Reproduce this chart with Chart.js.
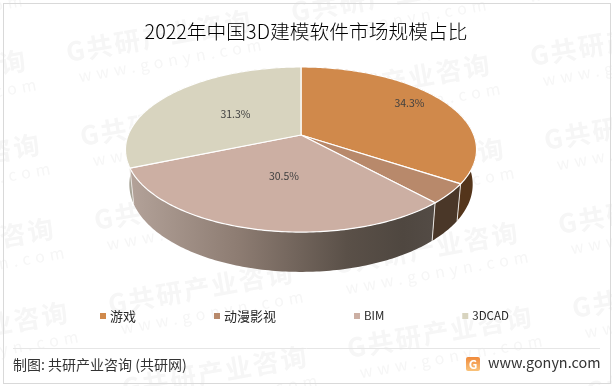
<!DOCTYPE html>
<html>
<head>
<meta charset="utf-8">
<style>
  html, body { margin: 0; padding: 0; background: #fff; }
  #wrap { width: 612px; height: 386px; }
</style>
<script src="https://cdn.jsdelivr.net/npm/chart.js@4"></script>
</head>
<body>
<div id="wrap"><canvas id="chart" width="612" height="386"></canvas></div>
<script>
const titleText = "2022年中国3D建模软件市场规模占比";
const categories = ["游戏", "动漫影视", "BIM", "3DCAD"];
const shares = [34.3, 3.9, 30.5, 31.3];
const shownLabels = ["34.3%", "", "30.5%", "31.3%"];
const sliceColors = ["#d0894b", "#b8896b", "#ccafa3", "#d8d4bf"];
const sourceText = "制图: 共研产业咨询 (共研网)";
const siteText = "www.gonyn.com";

const cjk = '"Noto Sans CJK SC", "Noto Sans", sans-serif';

// the pie is tilted with perspective, so the apex sits above the middle of the ellipse
const apexX = 301, apexY = 135, rimX = 172.8, rimY = 80, tilt = 0.176;

function topPoint(angle, f) {
  const u = Math.cos(angle) * f, v = Math.sin(angle) * f;
  const d = 1 - tilt * v;
  return [apexX + rimX * u / d, apexY + rimY * v / d];
}

function bottomPoint(angle) {
  const p = topPoint(angle, 1);
  return [apexX + (p[0] - apexX) * 0.978, 169 + (p[1] - apexY) * 1.06];
}

function rimPath(ctx, a0, a1, fn) {
  const steps = Math.max(8, Math.ceil(Math.abs(a1 - a0) * 60));
  for (let i = 0; i <= steps; i++) {
    const p = fn(a0 + (a1 - a0) * i / steps);
    ctx.lineTo(p[0], p[1]);
  }
}

function sideFill(ctx, i) {
  if (i === 0) return "#54351b";
  if (i === 1) return "#4a3728";
  if (i === 3) return "#a8a598";
  const g = ctx.createLinearGradient(130, 0, 440, 0);
  g.addColorStop(0, "#b3a299");
  g.addColorStop(0.35, "#8d7c72");
  g.addColorStop(0.7, "#5a5048");
  g.addColorStop(0.88, "#4f4740");
  g.addColorStop(1, "#544c46");
  return g;
}

const tiltedPie = {
  id: "tiltedPie",
  beforeDatasetDraw(chart) {
    const ctx = chart.ctx;
    const arcs = chart.getDatasetMeta(0).data;
    ctx.save();
    // side walls first, the top faces hide whatever is behind them
    [3, 0, 1, 2].forEach(i => {
      const a = arcs[i];
      ctx.beginPath();
      rimPath(ctx, a.startAngle, a.endAngle, t => topPoint(t, 1));
      rimPath(ctx, a.endAngle, a.startAngle, bottomPoint);
      ctx.closePath();
      ctx.fillStyle = sideFill(ctx, i);
      ctx.fill();
    });
    ctx.strokeStyle = "#e8e4e0";
    ctx.lineWidth = 1;
    arcs.forEach(a => {
      const p = topPoint(a.startAngle, 1), q = bottomPoint(a.startAngle);
      ctx.beginPath();
      ctx.moveTo(p[0], p[1]);
      ctx.lineTo(q[0], q[1]);
      ctx.stroke();
    });
    arcs.forEach((a, i) => {
      ctx.beginPath();
      ctx.moveTo(apexX, apexY);
      rimPath(ctx, a.startAngle, a.endAngle, t => topPoint(t, 1));
      ctx.closePath();
      ctx.fillStyle = sliceColors[i];
      ctx.fill();
      ctx.strokeStyle = "#ffffff";
      ctx.lineWidth = 1.2;
      ctx.stroke();
    });
    ctx.restore();
    return false;
  },
  afterDatasetsDraw(chart) {
    const ctx = chart.ctx;
    const arcs = chart.getDatasetMeta(0).data;
    const reach = [0.78, 0, 0.47, 0.5];
    const nudge = [[-3, -4], [0, 0], [2, 1], [3, 0]];
    ctx.save();
    ctx.font = '10.5px ' + cjk;
    ctx.fillStyle = "#404040";
    ctx.textAlign = "center";
    ctx.textBaseline = "middle";
    arcs.forEach((a, i) => {
      if (!shownLabels[i]) return;
      const p = topPoint((a.startAngle + a.endAngle) / 2, reach[i]);
      ctx.fillText(shownLabels[i], p[0] + nudge[i][0], p[1] + nudge[i][1]);
    });

    // legend: small squares, latin names run a bit smaller than the chinese ones
    ctx.textAlign = "left";
    let x = 100;
    categories.forEach((name, i) => {
      ctx.font = (i < 2 ? '13px ' : '11.5px ') + cjk;
      ctx.fillStyle = sliceColors[i];
      ctx.fillRect(x, 313, 6, 6);
      ctx.fillStyle = "#262626";
      ctx.fillText(name, x + 10, 316);
      x += 10 + ctx.measureText(name).width + 78;
    });
    ctx.restore();
  }
};

const pageDecor = {
  id: "pageDecor",
  beforeDraw(chart) {
    const ctx = chart.ctx;
    ctx.save();
    ctx.fillStyle = "#ffffff";
    ctx.fillRect(0, 0, 612, 386);
    // faint watermark, repeats on a slanted grid
    ctx.fillStyle = "#f6f6f6";
    for (let i = -2; i <= 3; i++) {
      for (let j = -5; j <= 2; j++) {
        const wx = 110 + i * 239 + j * 14, wy = 314 + i * 44 + j * 84;
        ctx.save();
        ctx.translate(wx, wy);
        ctx.rotate(-0.175);
        ctx.font = 'bold 26px ' + cjk;
        ctx.letterSpacing = "2px";
        ctx.fillText("G共研产业咨询", 0, 0);
        ctx.font = '16px ' + cjk;
        ctx.letterSpacing = "5px";
        ctx.fillText(siteText, 8, 22);
        ctx.restore();
      }
    }
    ctx.restore();

    ctx.save();
    ctx.strokeStyle = "#d9d9d9";
    ctx.lineWidth = 1;
    ctx.strokeRect(3.5, 3.5, 607, 380);
    ctx.strokeStyle = "#e6e6e6";
    ctx.beginPath();
    ctx.moveTo(13, 348.5);
    ctx.lineTo(600, 348.5);
    ctx.stroke();

    ctx.fillStyle = "#333333";
    ctx.textBaseline = "middle";
    ctx.font = '14px ' + cjk;
    ctx.fillText(sourceText, 13, 365);
    ctx.font = '14.4px ' + cjk;
    ctx.fillText(siteText, 488, 363);

    const g = ctx.createLinearGradient(0, 357, 0, 371);
    g.addColorStop(0, "#f08a3c");
    g.addColorStop(1, "#f9c27a");
    ctx.fillStyle = g;
    ctx.beginPath();
    ctx.roundRect(466, 357, 14, 14, 2);
    ctx.fill();
    ctx.fillStyle = "#ffffff";
    ctx.font = 'bold 12px ' + cjk;
    ctx.textAlign = "center";
    ctx.fillText("G", 473, 364);
    ctx.restore();
  }
};

new Chart(document.getElementById("chart"), {
  type: "pie",
  data: {
    labels: categories,
    datasets: [{ data: shares, backgroundColor: sliceColors, borderWidth: 0 }]
  },
  options: {
    responsive: false,
    animation: false,
    layout: { padding: { top: 8, bottom: 62 } },
    plugins: {
      tooltip: { enabled: false },
      legend: { display: false },
      title: {
        display: true,
        text: titleText,
        color: "#000000",
        font: { family: cjk, size: 19.75, weight: "300" },
        padding: { top: 12, bottom: 8 }
      }
    }
  },
  plugins: [tiltedPie, pageDecor]
});
</script>
</body>
</html>
